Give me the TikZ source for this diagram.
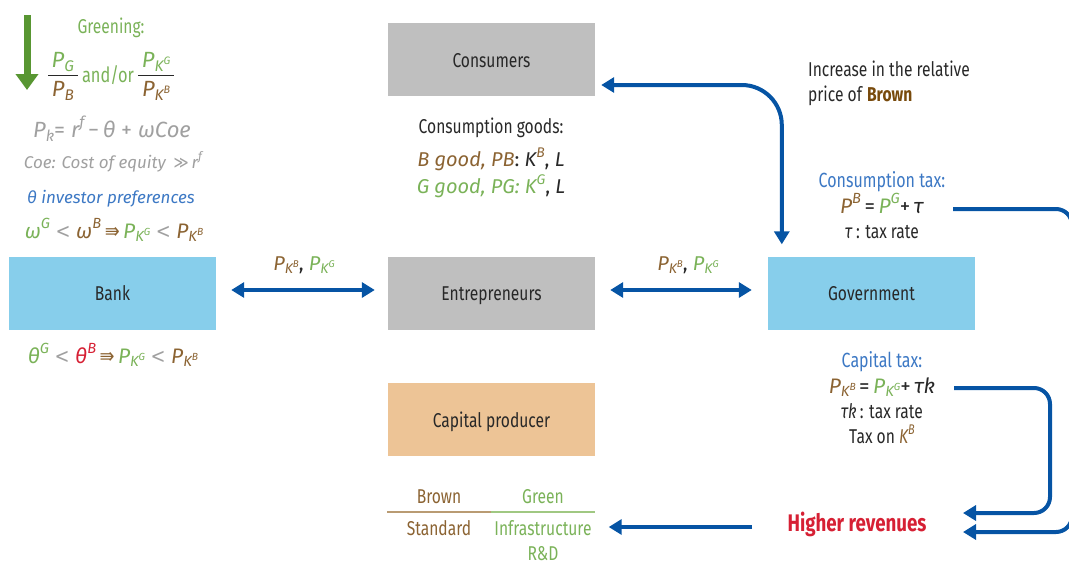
\documentclass[tikz,border=0pt]{standalone}
\usepackage{fontspec}
\setmainfont{Fira Sans}[FakeStretch=0.78]
\newfontfamily\wide{Fira Sans}
\newfontfamily\symf{DejaVu Sans}[FakeStretch=0.85]
\usetikzlibrary{arrows.meta}
\definecolor{boxgray}{RGB}{191,191,191}
\definecolor{boxblue}{RGB}{135,206,235}
\definecolor{boxtan}{RGB}{237,196,150}
\definecolor{arrblue}{RGB}{6,84,164}
\definecolor{tbrown}{RGB}{139,99,50}
\definecolor{tgreen}{RGB}{122,178,88}
\definecolor{ggreen}{RGB}{88,150,50}
\definecolor{tgray}{RGB}{160,160,160}
\definecolor{tblue}{RGB}{60,120,196}
\definecolor{tred}{RGB}{214,32,52}
\definecolor{dbrown}{RGB}{120,74,12}
\definecolor{tdark}{RGB}{40,40,40}
\makeatletter
\newcommand{\sm}[1]{{\fontsize{\the\dimexpr\f@size pt*70/100\relax}{0pt}\selectfont #1}}
\makeatother
\newcommand{\dn}[1]{\raisebox{-0.35ex}{\sm{#1}}}
\newcommand{\up}[1]{\raisebox{0.85ex}{\sm{#1}}}
\newcommand{\PK}[2]{{\color{#1}\textit{P\dn{K\up{#2}}}}}
\newcommand{\lt}{\textcolor{tgray}{\symf <}}
\newcommand{\frc}[2]{{\wide\fontsize{22}{24}\selectfont\setlength{\arrayrulewidth}{1.8pt}\color{tdark}\begin{tabular}{@{\,}c@{\,}}#1\\[0pt]\hline\noalign{\vskip 3pt}#2\end{tabular}}}
\begin{document}
\begin{tikzpicture}[x=1pt,y=-1pt,
  box/.style={minimum width=207pt, minimum height=73pt, inner sep=0pt, text=tdark, text height=15pt, text depth=0pt, font=\fontsize{20}{24}\selectfont},
  txt/.style={inner sep=0pt, anchor=base, text=tdark, font=\fontsize{20}{24}\selectfont},
  wtxt/.style={inner sep=0pt, anchor=base, text=tdark, font=\wide\fontsize{20}{24}\selectfont},
  barrow/.style={draw=arrblue, line width=4pt},
  >={Triangle[length=13pt,width=15pt]}]
\clip (0,0) rectangle (1069,566);
% boxes
\node[box, fill=boxgray] (cons) at (491.5,59.5) {Consumers};
\node[box, fill=boxgray] (entr) at (491.5,293) {Entrepreneurs};
\node[box, fill=boxtan] (capp) at (491.5,419.5) {Capital producer};
\node[box, fill=boxblue] (bank) at (112.5,293) {Bank};
\node[box, fill=boxblue] (gov) at (871.5,293) {Government};
% left column
\draw[ggreen, line width=7pt, -{Triangle[length=16pt,width=22pt]}] (27,15) -- (27,90);
\node[txt, text=tgreen] (green1) at (111,33) {Greening:};
\node[inner sep=0pt, text=tgreen, font=\fontsize{21}{24}\selectfont] (green2) at (111,77)
  {\frc{\textcolor{tgreen}{\textit{P\dn{G}}}}{\textcolor{tbrown}{\textit{P\dn{B}}}} and/or \frc{\PK{tgreen}{G}}{\PK{tbrown}{B}}};
\node[wtxt, text=tgray, font=\wide\fontsize{22}{26}\selectfont] (pk) at (112,137)
  {\textit{P\dn{k}}= \textit{r\up{f}}\,−\,\textit{θ} + \textit{ωCoe}};
\node[wtxt, text=tgray, font=\wide\fontsize{17}{22}\selectfont] (coe) at (113,168)
  {\textit{Coe: Cost of equity} \,{\symf ≫}\,\textit{r\up{f}}};
\node[wtxt, text=tblue, font=\wide\fontsize{17}{22}\selectfont] (inv) at (111,203)
  {\textit{θ investor preferences}};
\node[wtxt, font=\wide\fontsize{21}{24}\selectfont] (omega) at (114,238)
  {\textcolor{tgreen}{\textit{ω\up{G}}} \lt{} \textcolor{tbrown}{\textit{ω\up{B}}}\,\textcolor{tbrown}{\symf ⇛}\,\PK{tgreen}{G} \lt{} \PK{tbrown}{B}};
\node[wtxt, font=\wide\fontsize{21}{24}\selectfont] (theta) at (113,363)
  {\textcolor{tgreen}{\textit{θ\up{G}}} \lt{} \textcolor{tred}{\textit{θ\up{B}}}\,\textcolor{tbrown}{\symf ⇛}\,\PK{tgreen}{G} \lt{} \PK{tbrown}{B}};
% consumption goods
\node[txt] (cg1) at (491,133) {Consumption goods:};
\node[wtxt] (cg2) at (491,166) {\textcolor{tbrown}{\textit{B good, PB}}: \textit{K\up{\color{tbrown}B}}, \textit{L}};
\node[wtxt] (cg3) at (491,193) {\textcolor{tgreen}{\textit{G good, PG: K\up{G}}}, \textit{L}};
% arrows between boxes
\draw[barrow, <->] ([xshift=15pt,yshift=3pt]bank.east) -- ([xshift=-13pt,yshift=3pt]entr.west);
\draw[barrow, <->] ([xshift=15pt,yshift=3pt]entr.east) -- ([xshift=-16pt,yshift=3pt]gov.west);
\node[wtxt] (lab1) at (304,270) {\PK{tbrown}{B}, \PK{tgreen}{G}};
\node[wtxt] (lab2) at (688,270) {\PK{tbrown}{B}, \PK{tgreen}{G}};
\draw[barrow, <->, rounded corners=40pt] ([xshift=6pt,yshift=-25.5pt]cons.east) -| ([xshift=14pt,yshift=12pt]gov.north west);
% right texts
\node[txt, anchor=base west, font=\fontsize{20}{22}\selectfont] (inc1) at (808,76) {Increase in the relative};
\node[txt, anchor=base west, font=\fontsize{20}{22}\selectfont] (inc2) at (808,101) {price of \textbf{\textcolor{dbrown}{Brown}}};
\node[txt, text=tblue, font=\fontsize{20.5}{22}\selectfont] (ct1) at (882,187) {Consumption tax:};
\node[wtxt, font=\wide\fontsize{21}{22}\selectfont] (ct2) at (882,213) {\textcolor{tbrown}{\textit{P\up{B}}}\,=\,\textcolor{tgreen}{\textit{P\up{G}}}+\,\textit{τ}};
\node[txt, font=\fontsize{20}{22}\selectfont] (ct3) at (882,238) {\textit{τ}\,: tax rate};
\node[txt, text=tblue, font=\fontsize{20.5}{22}\selectfont] (kt1) at (882,367) {Capital tax:};
\node[wtxt, font=\wide\fontsize{21}{22}\selectfont] (kt2) at (882,393) {\PK{tbrown}{B}\,=\,\PK{tgreen}{G}+\,\textit{τk}};
\node[txt, font=\fontsize{20}{22}\selectfont] (kt3) at (882,418) {\textit{τk}\,: tax rate};
\node[txt, font=\fontsize{20}{22}\selectfont] (kt4) at (882,443) {Tax on \textcolor{tbrown}{\textit{K\up{B}}}};
\node[txt, text=tred, font=\fontsize{24}{26}\selectfont\bfseries] (hr) at (857,531) {Higher revenues};
% loops
\coordinate (o1) at (953,209);
\coordinate (o2) at (1072,400);
\coordinate (o3) at (963,532);
\coordinate (i1) at (954,388);
\coordinate (i2) at (1050,450);
\coordinate (i3) at (963,513);
\draw[barrow, ->, rounded corners=16pt] (o1) -| (o2) |- (o3);
\draw[barrow, ->, rounded corners=16pt] (i1) -| (i2) |- (i3);
% table
\node[txt, text=tbrown] (brown) at (439,503) {Brown};
\node[txt, text=tgreen] (green) at (543,503) {Green};
\draw[color={rgb,255:red,185;green,155;blue,115}, line width=2pt] (387,512) -- (491,512);
\draw[color={rgb,255:red,160;green,200;blue,130}, line width=2pt] (491,512) -- (595,512);
\node[txt, text=tbrown] (std) at (439,535) {Standard};
\node[txt, text=tgreen] (infr) at (543,535) {Infrastructure};
\node[txt, text=tgreen] (rd) at (543,560) {R\&D};
\coordinate (hrl) at (752,527);
\draw[barrow, ->] (hrl) -- ([xshift=17pt]infr.east |- hrl);
\end{tikzpicture}
\end{document}
